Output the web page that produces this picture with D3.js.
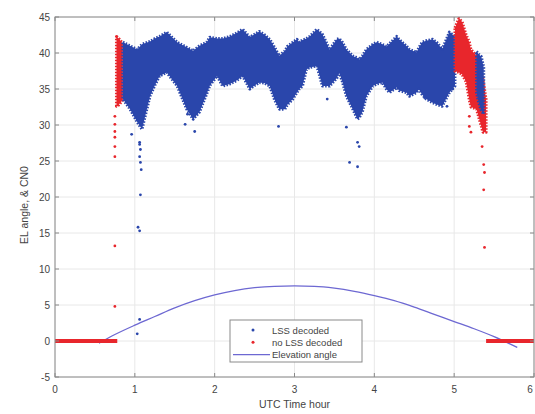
<!DOCTYPE html>
<html>
<head>
<meta charset="utf-8">
<script src="https://cdn.jsdelivr.net/npm/d3@7/dist/d3.min.js"></script>
<style>
  body { margin: 0; background: #fff; }
  svg { display: block; font-family: "Liberation Sans", Arial, sans-serif; }
</style>
</head>
<body>
<svg id="chart" width="535" height="414"></svg>
<script>
// LSS decoded band (blue): time (h), lower and upper CN0 edge
const blueHours = [0.85, 0.94, 1.03, 1.09, 1.19, 1.25, 1.31, 1.40, 1.53, 1.65, 1.73, 1.81, 1.90, 1.94, 2.03, 2.10, 2.19, 2.28, 2.35, 2.44, 2.50, 2.56, 2.63, 2.69, 2.75, 2.81, 2.88, 2.91, 2.98, 3.03, 3.06, 3.10, 3.15, 3.19, 3.28, 3.35, 3.44, 3.53, 3.56, 3.60, 3.65, 3.73, 3.79, 3.81, 3.85, 3.90, 3.98, 4.03, 4.10, 4.15, 4.19, 4.28, 4.31, 4.40, 4.44, 4.53, 4.56, 4.60, 4.65, 4.73, 4.79, 4.85, 4.94, 5.01];
const blueLow   = [33.6, 32.2, 30.4, 29.4, 34.0, 35.5, 36.8, 37.3, 35.4, 32.2, 30.8, 31.8, 34.3, 35.5, 36.8, 35.4, 35.7, 36.2, 36.8, 35.0, 35.5, 35.9, 35.8, 35.4, 33.5, 32.2, 32.2, 32.8, 33.6, 34.5, 35.0, 35.4, 37.7, 38.0, 38.2, 35.4, 35.4, 36.5, 37.3, 36.0, 34.0, 32.2, 30.8, 31.0, 31.8, 34.0, 35.4, 35.7, 35.9, 35.0, 34.5, 35.2, 34.8, 34.5, 34.0, 34.5, 35.0, 34.2, 33.6, 33.1, 32.8, 32.6, 34.5, 35.4];
const blueHigh  = [41.5, 41.0, 40.5, 41.2, 41.6, 42.0, 42.3, 42.9, 41.5, 40.8, 40.3, 41.0, 41.5, 42.2, 42.0, 42.0, 42.3, 42.8, 43.3, 42.2, 42.6, 43.0, 42.5, 41.9, 40.8, 39.6, 40.3, 40.9, 41.5, 41.9, 41.5, 41.8, 42.0, 42.3, 43.3, 42.6, 40.5, 41.9, 42.0, 41.5, 40.5, 39.6, 39.3, 39.1, 39.6, 40.5, 41.2, 41.5, 41.2, 40.9, 41.3, 42.3, 41.9, 41.0, 40.5, 40.1, 40.8, 41.5, 41.7, 41.9, 41.4, 40.5, 42.9, 42.3];

// short blue strip inside the right red block
const blueStripHours = [5.28, 5.31, 5.34, 5.37];
const blueStripLow   = [34.5, 33.0, 32.0, 31.5];
const blueStripHigh  = [40.2, 39.8, 39.5, 38.0];

// no LSS decoded bands (red)
const redLeftHours = [0.77, 0.80, 0.85];
const redLeftLow   = [32.6, 32.8, 33.5];
const redLeftHigh  = [42.3, 42.0, 41.3];
const redRightHours = [5.01, 5.06, 5.10, 5.15, 5.19, 5.21, 5.28, 5.31, 5.36, 5.40];
const redRightLow   = [37.5, 37.3, 37.0, 36.0, 33.5, 32.5, 32.2, 31.0, 29.0, 29.0];
const redRightHigh  = [43.5, 44.8, 44.3, 42.5, 41.5, 40.5, 39.6, 38.0, 36.5, 33.5];

// scattered points
const blueDotHours = [1.06, 1.07, 1.06, 1.07, 1.08, 1.07, 1.04, 1.06, 1.06, 1.03, 0.96, 1.06, 1.63, 1.75, 1.66, 2.80, 3.41, 3.65, 3.79, 3.81, 3.69, 3.79, 4.63, 4.91, 4.98];
const blueDotCN0   = [27.6, 26.6, 25.6, 24.8, 23.8, 20.3, 15.8, 15.3, 3.0, 1.0, 28.7, 27.3, 30.1, 29.1, 31.5, 29.8, 33.6, 29.7, 27.6, 27.0, 24.8, 24.2, 33.8, 32.6, 35.0];
const redDotHours = [0.75, 0.75, 0.75, 0.75, 0.75, 0.75, 0.75, 0.75, 5.19, 5.19, 5.21, 5.35, 5.37, 5.38, 5.37, 5.38];
const redDotCN0   = [31.2, 30.1, 29.1, 28.3, 27.0, 25.6, 13.2, 4.8, 31.2, 29.8, 29.0, 27.0, 24.5, 23.4, 21.0, 13.0];

// red samples stuck at zero before/after the pass
const zeroStart = [0.0, 5.40];
const zeroEnd   = [0.78, 6.0];

// elevation angle
const elevHours = [0.55, 0.75, 1.0, 1.25, 1.5, 1.75, 2.0, 2.25, 2.5, 2.75, 3.0, 3.25, 3.5, 3.75, 4.0, 4.25, 4.5, 4.75, 5.0, 5.25, 5.5, 5.79];
const elevAngle = [-0.3, 0.9, 2.2, 3.4, 4.6, 5.6, 6.4, 7.0, 7.4, 7.6, 7.65, 7.6, 7.35, 6.9, 6.3, 5.6, 4.7, 3.7, 2.7, 1.7, 0.6, -0.9];

const xTicks = [0, 1, 2, 3, 4, 5, 6];
const yTicks = [-5, 0, 5, 10, 15, 20, 25, 30, 35, 40, 45];

const blue = '#2a46ab';
const red = '#e8262c';
const lineColor = '#6d68d2';

const svg = d3.select('#chart');
const mLeft = 55, mRight = 534, mTop = 17, mBottom = 377;

const x = d3.scaleLinear().domain([0, 6]).range([mLeft, mRight]);
const y = d3.scaleLinear().domain([-5, 45]).range([mBottom, mTop]);

svg.append('rect').attr('width', 535).attr('height', 414).attr('fill', '#fff');

// grid
svg.append('g')
  .selectAll('line')
  .data(xTicks)
  .join('line')
  .attr('x1', d => x(d)).attr('x2', d => x(d))
  .attr('y1', mTop).attr('y2', mBottom)
  .attr('stroke', '#e8e8e8');

svg.append('g')
  .selectAll('line')
  .data(yTicks)
  .join('line')
  .attr('x1', mLeft).attr('x2', mRight)
  .attr('y1', d => y(d)).attr('y2', d => y(d))
  .attr('stroke', '#e8e8e8');

// bands (dashed thick edge gives the scattered-point look)
const band = (hours, low, high) => d3.area()
  .x((d, i) => x(hours[i]))
  .y0((d, i) => y(low[i]))
  .y1((d, i) => y(high[i]))(hours);

const drawBand = (hours, low, high, color) => {
  svg.append('path')
    .attr('d', band(hours, low, high))
    .attr('fill', color)
    .attr('stroke', color)
    .attr('stroke-width', 3)
    .attr('stroke-dasharray', '1.5,1.5')
    .attr('stroke-linejoin', 'round');
};

drawBand(redLeftHours, redLeftLow, redLeftHigh, red);
drawBand(blueHours, blueLow, blueHigh, blue);
drawBand(redRightHours, redRightLow, redRightHigh, red);
drawBand(blueStripHours, blueStripLow, blueStripHigh, blue);

// dots
svg.append('g')
  .selectAll('circle')
  .data(blueDotHours)
  .join('circle')
  .attr('cx', d => x(d))
  .attr('cy', (d, i) => y(blueDotCN0[i]))
  .attr('r', 1.4)
  .attr('fill', blue);

svg.append('g')
  .selectAll('circle')
  .data(redDotHours)
  .join('circle')
  .attr('cx', d => x(d))
  .attr('cy', (d, i) => y(redDotCN0[i]))
  .attr('r', 1.4)
  .attr('fill', red);

// elevation angle
svg.append('path')
  .datum(elevHours)
  .attr('d', d3.line().x(d => x(d)).y((d, i) => y(elevAngle[i])).curve(d3.curveMonotoneX))
  .attr('fill', 'none')
  .attr('stroke', lineColor)
  .attr('stroke-width', 1.3);

// zero runs
svg.append('g')
  .selectAll('line')
  .data(zeroStart)
  .join('line')
  .attr('x1', d => x(d))
  .attr('x2', (d, i) => x(zeroEnd[i]))
  .attr('y1', y(0)).attr('y2', y(0))
  .attr('stroke', red)
  .attr('stroke-width', 4);

// frame + ticks
svg.append('rect')
  .attr('x', mLeft).attr('y', mTop)
  .attr('width', mRight - mLeft).attr('height', mBottom - mTop)
  .attr('fill', 'none').attr('stroke', '#8a8a8a');

const tick = 4;
svg.append('g').selectAll('path').data(xTicks).join('path')
  .attr('d', d => `M${x(d)},${mBottom}v${-tick}M${x(d)},${mTop}v${tick}`)
  .attr('stroke', '#8a8a8a');
svg.append('g').selectAll('path').data(yTicks).join('path')
  .attr('d', d => `M${mLeft},${y(d)}h${tick}M${mRight},${y(d)}h${-tick}`)
  .attr('stroke', '#8a8a8a');

svg.append('g').selectAll('text').data(xTicks).join('text')
  .attr('x', d => Math.min(x(d), 530)).attr('y', mBottom + 16)
  .attr('text-anchor', 'middle')
  .attr('font-size', 10).attr('fill', '#444')
  .text(d => d);

svg.append('g').selectAll('text').data(yTicks).join('text')
  .attr('x', mLeft - 5).attr('y', d => y(d) + 3.5)
  .attr('text-anchor', 'end')
  .attr('font-size', 10).attr('fill', '#444')
  .text(d => d);

svg.append('text')
  .attr('x', (mLeft + mRight) / 2).attr('y', 408)
  .attr('text-anchor', 'middle')
  .attr('font-size', 10.5).attr('fill', '#444')
  .text('UTC Time hour');

svg.append('text')
  .attr('transform', `translate(28,${(mTop + mBottom) / 2 + 8}) rotate(-90)`)
  .attr('text-anchor', 'middle')
  .attr('font-size', 10.5).attr('fill', '#444')
  .text('EL angle, & CN0');

// legend
const legend = svg.append('g').attr('transform', 'translate(230,320)');
legend.append('rect')
  .attr('width', 132).attr('height', 42)
  .attr('fill', '#fff').attr('stroke', '#8a8a8a');

const legendItems = ['LSS decoded', 'no LSS decoded', 'Elevation angle'];
const legendKinds = ['blue', 'red', 'line'];

const rows = legend.selectAll('g').data(legendItems).join('g')
  .attr('transform', (d, i) => `translate(0,${10 + i * 12.3})`);

rows.filter((d, i) => legendKinds[i] !== 'line')
  .append('circle')
  .attr('cx', 23).attr('cy', 0).attr('r', 1.5)
  .attr('fill', (d, i) => i === 0 ? blue : red);

rows.filter((d, i) => legendKinds[i] === 'line')
  .append('line')
  .attr('x1', 3).attr('x2', 40).attr('y1', 0).attr('y2', 0)
  .attr('stroke', lineColor).attr('stroke-width', 1.3);

rows.append('text')
  .attr('x', 42).attr('y', 3.5)
  .attr('font-size', 9.5).attr('fill', '#444')
  .text(d => d);
</script>
</body>
</html>
